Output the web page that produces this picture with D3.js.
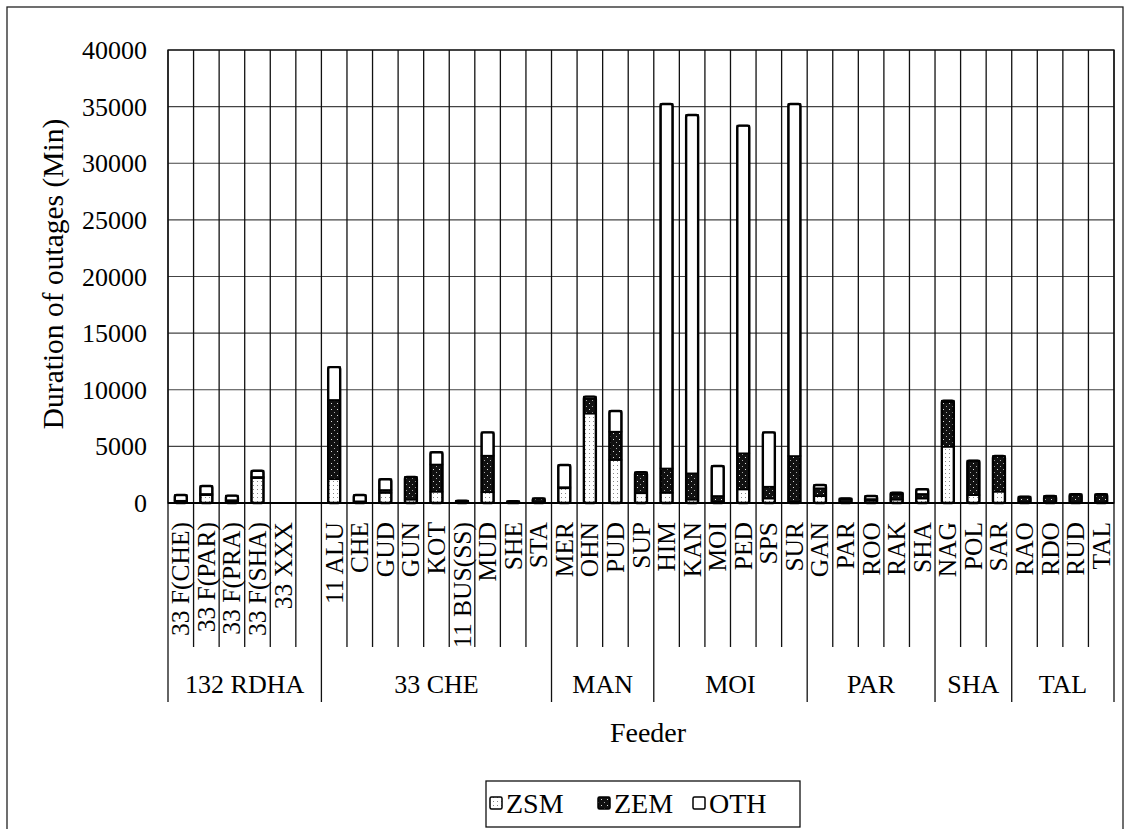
<!DOCTYPE html>
<html><head><meta charset="utf-8">
<script src="https://cdn.jsdelivr.net/npm/d3@7"></script>
<style>html,body{margin:0;padding:0;background:#fff}svg{display:block}</style>
</head><body>
<svg id="c" width="1127" height="829" font-family="'Liberation Serif', 'Times New Roman', Tinos, 'DejaVu Serif', serif"></svg>
<script>
const groups = ["132 RDHA","33 CHE","MAN","MOI","PAR","SHA","TAL"];
const groupSizes = [6,9,4,6,5,3,4];
const feeders = ["33 F(CHE)","33 F(PAR)","33 F(PRA)","33 F(SHA)","33 XXX","",
  "11 ALU","CHE","GUD","GUN","KOT","11 BUS(SS)","MUD","SHE","STA",
  "MER","OHN","PUD","SUP",
  "HIM","KAN","MOI","PED","SPS","SUR",
  "GAN","PAR","ROO","RAK","SHA",
  "NAG","POL","SAR",
  "RAO","RDO","RUD","TAL"];
const ZSM = [150,700,100,2200,0,0, 2100,100,900,300,1000,50,950,0,50, 1300,7900,3800,860, 900,300,100,1200,400,100, 600,0,200,300,400, 4970,700,1000, 50,0,0,0];
const ZEM = [50,100,150,100,0,0, 7000,50,250,2000,2400,100,3230,150,360, 100,1300,2500,1700, 2150,2320,520,3190,1040,4050, 700,350,150,500,400, 3960,3040,3150, 510,620,770,770];
const OTH = [500,700,400,550,0,0, 2900,550,950,0,1080,50,2060,0,0, 1950,190,1820,150, 32180,31640,2650,28930,4800,31080, 290,50,270,110,410, 100,0,0, 0,0,0,0];
const seriesNames = ["ZSM","ZEM","OTH"];
const yTicks = [0,5000,10000,15000,20000,25000,30000,35000,40000];

const svg = d3.select("#c");
const FONT = "'Liberation Serif', 'Times New Roman', Tinos, 'DejaVu Serif', serif";
const M = {l:168, r:1114, t:50, b:503};
const idx = d3.range(feeders.length);
const x = d3.scaleBand().domain(idx).range([M.l, M.r]).padding(0);
const y = d3.scaleLinear().domain([0,40000]).range([M.b, M.t]);
const bw = x.bandwidth();

// patterns
const defs = svg.append("defs");
const p1 = defs.append("pattern").attr("id","pZSM").attr("patternUnits","userSpaceOnUse").attr("width",4).attr("height",4);
p1.append("rect").attr("width",4).attr("height",4).attr("fill","#fff");
p1.append("rect").attr("x",1).attr("y",1).attr("width",1).attr("height",1).attr("fill","#888");
const p2 = defs.append("pattern").attr("id","pZEM").attr("patternUnits","userSpaceOnUse").attr("width",6).attr("height",6);
p2.append("rect").attr("width",6).attr("height",6).attr("fill","#111");
p2.append("rect").attr("x",1).attr("y",1).attr("width",1).attr("height",1).attr("fill","#ddd");
p2.append("rect").attr("x",4).attr("y",4).attr("width",1).attr("height",1).attr("fill","#aaa");
const fills = {ZSM:"url(#pZSM)", ZEM:"url(#pZEM)", OTH:"#fff"};

// outer frame
svg.append("rect").attr("x",7).attr("y",7).attr("width",1116).attr("height",830).attr("fill","none").attr("stroke","#222").attr("stroke-width",1.3);

// horizontal grid
svg.append("g").selectAll("line").data(yTicks).join("line")
  .attr("x1",M.l).attr("x2",M.r).attr("y1",d=>y(d)).attr("y2",d=>y(d))
  .attr("stroke","#444").attr("stroke-width",1.2);

// vertical category lines
const bounds = d3.range(feeders.length+1).map(i => i<feeders.length ? x(i) : M.r);
const groupStarts = [0]; groupSizes.forEach((s,i)=>groupStarts.push(groupStarts[i]+s));
svg.append("g").selectAll("line").data(bounds).join("line")
  .attr("x1",d=>d).attr("x2",d=>d).attr("y1",M.t)
  .attr("y2",(d,i)=> groupStarts.includes(i) ? 702 : 647)
  .attr("stroke","#111").attr("stroke-width",1.3);

// plot border
svg.append("rect").attr("x",M.l).attr("y",M.t).attr("width",M.r-M.l).attr("height",M.b-M.t)
  .attr("fill","none").attr("stroke","#111").attr("stroke-width",1.3);

// stacked bars
const table = idx.map(i => ({i, ZSM:ZSM[i], ZEM:ZEM[i], OTH:OTH[i]}));
const stack = d3.stack().keys(seriesNames)(table);
const barW = 12;
const gb = svg.append("g");
stack.forEach(layer => {
  gb.selectAll(null).data(layer.filter(d=>d[1]-d[0]>0)).join("rect")
    .attr("x", d => x(d.data.i) + (bw-barW)/2)
    .attr("width", barW)
    .attr("y", d => y(d[1]))
    .attr("height", d => Math.max(0.5, y(d[0]) - y(d[1])))
    .attr("fill", fills[layer.key])
    .attr("stroke","#000").attr("stroke-width",1.6);
});
gb.selectAll(null).data(table.filter(d=>d.ZSM+d.ZEM+d.OTH>0)).join("rect")
  .attr("x", d => x(d.i) + (bw-barW)/2)
  .attr("width", barW)
  .attr("y", d => y(d.ZSM+d.ZEM+d.OTH))
  .attr("height", d => y(0) - y(d.ZSM+d.ZEM+d.OTH))
  .attr("rx",2).attr("fill","none").attr("stroke","#000").attr("stroke-width",2.4);

// baseline
svg.append("line").attr("x1",M.l).attr("x2",M.r).attr("y1",M.b).attr("y2",M.b).attr("stroke","#000").attr("stroke-width",2.2);

// y axis labels
svg.append("g").selectAll("text").data(yTicks).join("text")
  .attr("font-family",FONT)
  .attr("x",147).attr("y",d=>y(d)).attr("dy","0.35em").attr("text-anchor","end")
  .attr("font-size",26).text(d=>d);
svg.append("text").attr("font-family",FONT).attr("transform","translate(63,274) rotate(-90)").attr("text-anchor","middle")
  .attr("font-size",29.5).text("Duration of outages (Min)");

// feeder labels
svg.append("g").selectAll("text").data(idx).join("text")
  .attr("font-family",FONT)
  .attr("transform", i => `translate(${x(i)+bw/2+8.5},522) rotate(-90)`)
  .attr("text-anchor","end").attr("font-size",25.5).text(i=>feeders[i]);

// group labels
svg.append("g").selectAll("text").data(groups).join("text")
  .attr("font-family",FONT)
  .attr("x",(g,k)=> (bounds[groupStarts[k]] + bounds[groupStarts[k+1]])/2)
  .attr("y",693).attr("text-anchor","middle").attr("font-size",26).text(g=>g);

// x title
svg.append("text").attr("font-family",FONT).attr("x",648).attr("y",742).attr("text-anchor","middle").attr("font-size",28).text("Feeder");

// legend
const lg = svg.append("g");
lg.append("rect").attr("x",486).attr("y",781).attr("width",314).attr("height",46).attr("fill","#fff").attr("stroke","#111").attr("stroke-width",1.3);
const lx = [490, 598, 693];
seriesNames.forEach((s,k)=>{
  lg.append("rect").attr("x",lx[k]).attr("y",797).attr("width",12).attr("height",12)
    .attr("fill", fills[s]).attr("stroke","#000").attr("stroke-width",1.5).attr("rx",1.5);
  lg.append("text").attr("font-family",FONT).attr("x",lx[k]+16).attr("y",813).attr("font-size",28).text(s);
});
</script>
</body></html>
